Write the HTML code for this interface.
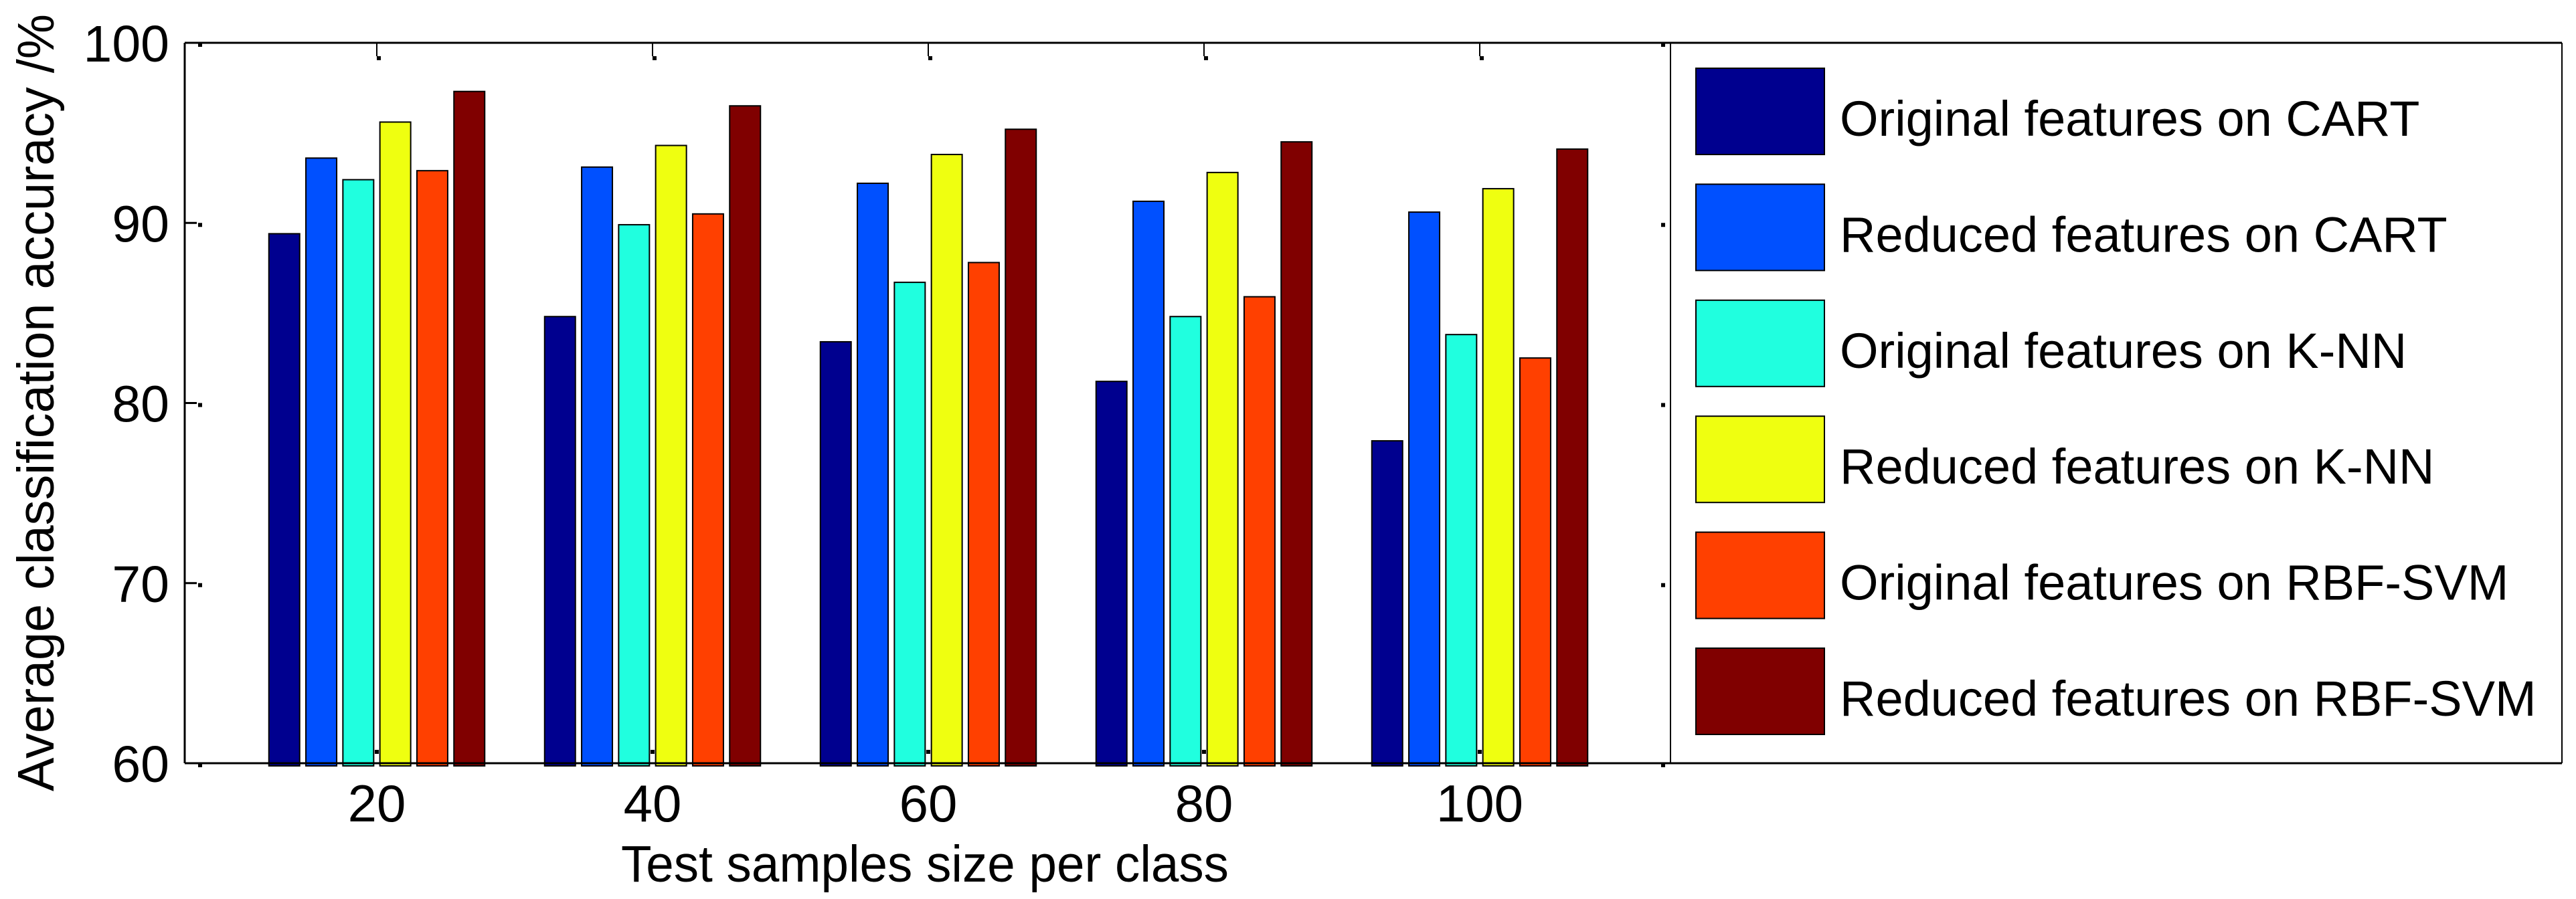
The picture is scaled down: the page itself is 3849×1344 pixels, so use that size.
<!DOCTYPE html>
<html><head><meta charset="utf-8"><style>
html,body{margin:0;padding:0;background:#fff;}
svg{display:block;font-family:"Liberation Sans",Arial,sans-serif;}
</style></head><body>
<svg id="chart" xmlns="http://www.w3.org/2000/svg" width="3849" height="1344" viewBox="0 0 3849 1344">
<rect x="0" y="0" width="3849" height="1344" fill="#fff"/>
<g id="bars"></g>
<g id="axes"></g>
<g id="legend"></g>
<text transform="translate(80,1183) rotate(-90)" font-size="77" textLength="1162" lengthAdjust="spacingAndGlyphs">Average classification accuracy /%</text>
<text x="928" y="1318" font-size="77" textLength="908" lengthAdjust="spacingAndGlyphs">Test samples size per class</text>
</svg>
<script>
const categories = ['20','40','60','80','100'];
const seriesNames = ['Original features on CART','Reduced features on CART','Original features on K-NN','Reduced features on K-NN','Original features on RBF-SVM','Reduced features on RBF-SVM'];
const origCART = [89.4, 84.8, 83.4, 81.2, 77.9];
const redCART  = [93.6, 93.1, 92.2, 91.2, 90.6];
const origKNN  = [92.4, 89.9, 86.7, 84.8, 83.8];
const redKNN   = [95.6, 94.3, 93.8, 92.8, 91.9];
const origSVM  = [92.9, 90.5, 87.8, 85.9, 82.5];
const redSVM   = [97.3, 96.5, 95.2, 94.5, 94.1];
const yTicks = [60, 70, 80, 90, 100];

const series = [origCART, redCART, origKNN, redKNN, origSVM, redSVM];
const colors = ['#00008f','#0050ff','#20ffdf','#efff10','#ff4000','#800000'];
const NS = 'http://www.w3.org/2000/svg';
const L = 276, R = 2496, T = 64, B = 1141, LR = 3828;
const yMin = 60, yMax = 100;
function yScale(v){ return B - (v - yMin) / (yMax - yMin) * (B - T); }
function xScale(i){ return 563 + 412 * i; }
function mk(tag, attrs, parent){ const e = document.createElementNS(NS, tag); for (const k in attrs) e.setAttribute(k, attrs[k]); parent.appendChild(e); return e; }

const bars = document.getElementById('bars');
const axes = document.getElementById('axes');
const legend = document.getElementById('legend');

series.forEach((s, j) => {
  s.forEach((v, i) => {
    const cx = xScale(i) + (j - 2.5) * 55.3;
    const y = yScale(v);
    const r = mk('rect', {x: cx - 23, y: y, width: 46, height: B + 4 - y, fill: colors[j], stroke: '#000', 'stroke-width': 2}, bars);
    
    
  });
});

// frame
mk('line', {x1: L, y1: T, x2: LR, y2: T, stroke: '#000', 'stroke-width': 3}, axes);
mk('line', {x1: L, y1: B, x2: LR, y2: B, stroke: '#000', 'stroke-width': 3}, axes);
mk('line', {x1: L, y1: T, x2: L, y2: B, stroke: '#000', 'stroke-width': 3}, axes);
mk('line', {x1: R, y1: T, x2: R, y2: B, stroke: '#000', 'stroke-width': 2}, axes);
mk('line', {x1: LR, y1: T, x2: LR, y2: B, stroke: '#000', 'stroke-width': 2}, axes);

yTicks.forEach(t => {
  const y = yScale(t);
  mk('line', {x1: L, y1: y, x2: L + 18, y2: y, stroke: '#000', 'stroke-width': 3}, axes);
  mk('rect', {x: L + 20, y: y, width: 6, height: 6, fill: '#000'}, axes);
  mk('rect', {x: R - 14, y: y, width: 6, height: 6, fill: '#000'}, axes);
  const tx = mk('text', {x: 253, y: y + 28, 'font-size': 77, 'text-anchor': 'end'}, axes);
  
  
  tx.textContent = String(t);
});
categories.forEach((c, i) => {
  const x = xScale(i);
  mk('line', {x1: x, y1: T, x2: x, y2: T + 20, stroke: '#000', 'stroke-width': 2}, axes);
  mk('rect', {x: x, y: T + 20, width: 6, height: 6, fill: '#000'}, axes);
  mk('rect', {x: x - 3, y: B - 20, width: 6, height: 6, fill: '#000'}, axes);
  const tx = mk('text', {x: x, y: 1228, 'font-size': 78, 'text-anchor': 'middle'}, axes);
  
  
  tx.textContent = c;
});

seriesNames.forEach((n, j) => {
  const top = 102 + j * 173.4;
  const g = mk('g', {}, legend);
  
  
  mk('rect', {x: 2534, y: top, width: 192, height: 129, fill: colors[j], stroke: '#000', 'stroke-width': 2}, g);
  const tx = mk('text', {x: 2749, y: top + 101, 'font-size': 74}, g);
  tx.textContent = n;
});
</script>
</body></html>
